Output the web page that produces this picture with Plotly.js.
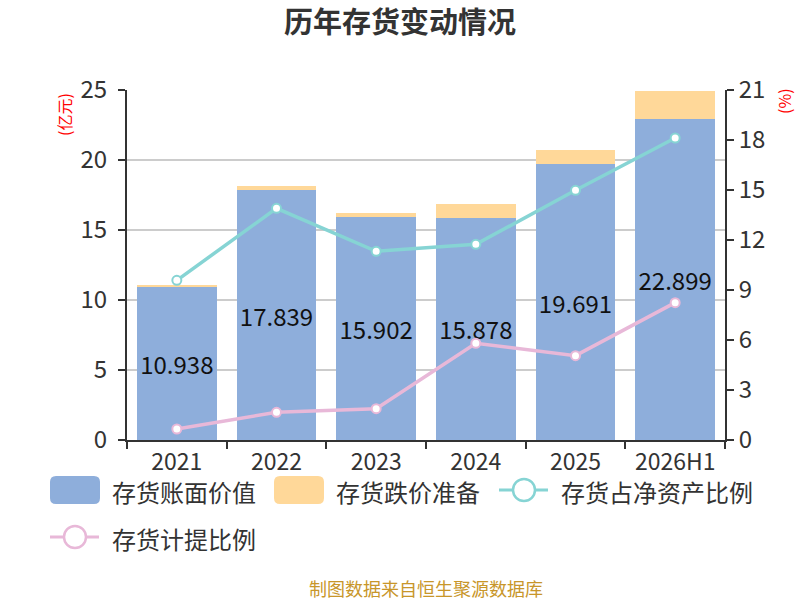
<!DOCTYPE html>
<html>
<head>
<meta charset="utf-8">
<script src="https://cdn.plot.ly/plotly-3.0.1.min.js"></script>
<style>html,body{margin:0;padding:0;background:#fff;}#chart{width:800px;height:600px;}</style>
</head>
<body>
<div id="chart"></div>
<script>
const categories = ['2021', '2022', '2023', '2024', '2025', '2026H1'];
const bookValue = [10.938, 17.839, 15.902, 15.878, 19.691, 22.899];
const impairment = [0.11, 0.30, 0.31, 0.98, 1.05, 2.03];
const shareOfNetAssets = [9.58, 13.9, 11.32, 11.74, 14.98, 18.12];
const provisionRatio = [0.66, 1.66, 1.88, 5.8, 5.06, 8.24];
const seriesNames = ['存货账面价值', '存货跌价准备', '存货占净资产比例', '存货计提比例'];
const seriesColors = ['#8eaedb', '#ffd899', '#86d4d4', '#e8b8d8'];
const leftTicks = [0, 5, 10, 15, 20, 25];
const rightTicks = [0, 3, 6, 9, 12, 15, 18, 21];

const FONT = '"Noto Sans CJK SC", "Noto Sans", sans-serif';

// plot-area geometry (px) used for the hand-made legend
const L = 127, T = 90, W = 598, H = 350;
const px = v => (v - L) / W;
const py = v => (T + H - v) / H;

const traces = [
  {
    type: 'bar', name: seriesNames[0], x: categories, y: bookValue,
    marker: {color: seriesColors[0]},
    text: bookValue.map(v => v.toFixed(3)), textposition: 'inside',
    insidetextanchor: 'middle', textangle: 0,
    textfont: {size: 24, color: '#111', family: FONT},
    hoverinfo: 'none'
  },
  {
    type: 'bar', name: seriesNames[1], x: categories, y: impairment,
    marker: {color: seriesColors[1]}, hoverinfo: 'none'
  },
  {
    type: 'scatter', mode: 'lines+markers', name: seriesNames[2],
    x: categories, y: shareOfNetAssets, yaxis: 'y2',
    line: {color: seriesColors[2], width: 3.5},
    marker: {color: '#ffffff', size: 9, line: {color: seriesColors[2], width: 2}},
    hoverinfo: 'none'
  },
  {
    type: 'scatter', mode: 'lines+markers', name: seriesNames[3],
    x: categories, y: provisionRatio, yaxis: 'y2',
    line: {color: seriesColors[3], width: 3.5},
    marker: {color: '#ffffff', size: 9, line: {color: seriesColors[3], width: 2}},
    hoverinfo: 'none'
  }
];

// legend (boxes for bars, line + hollow circle for lines)
const legendItems = [
  {kind: 'box',  x: 50,  y: 490},
  {kind: 'box',  x: 274, y: 490},
  {kind: 'line', x: 499, y: 490},
  {kind: 'line', x: 50,  y: 537}
];
const shapes = [];
const annotations = [];
legendItems.forEach((it, i) => {
  const c = seriesColors[i];
  if (it.kind === 'box') {
    const x0 = it.x, x1 = it.x + 50, y0 = it.y - 14, y1 = it.y + 14, r = 6;
    const path = `M${px(x0 + r)},${py(y0)} L${px(x1 - r)},${py(y0)} Q${px(x1)},${py(y0)} ${px(x1)},${py(y0 + r)} ` +
      `L${px(x1)},${py(y1 - r)} Q${px(x1)},${py(y1)} ${px(x1 - r)},${py(y1)} L${px(x0 + r)},${py(y1)} ` +
      `Q${px(x0)},${py(y1)} ${px(x0)},${py(y1 - r)} L${px(x0)},${py(y0 + r)} Q${px(x0)},${py(y0)} ${px(x0 + r)},${py(y0)} Z`;
    shapes.push({type: 'path', xref: 'paper', yref: 'paper', path: path, fillcolor: c, line: {width: 0}});
  } else {
    shapes.push({type: 'line', xref: 'paper', yref: 'paper', x0: px(it.x), x1: px(it.x + 49),
      y0: py(it.y), y1: py(it.y), line: {color: c, width: 3}});
    shapes.push({type: 'circle', xref: 'paper', yref: 'paper', x0: px(it.x + 25 - 11), x1: px(it.x + 25 + 11),
      y0: py(it.y - 11), y1: py(it.y + 11), fillcolor: '#ffffff', line: {color: c, width: 2.5}});
  }
  annotations.push({text: seriesNames[i], xref: 'paper', yref: 'paper', x: px(it.x + 60), y: py(it.y + 1),
    xanchor: 'left', yanchor: 'middle', showarrow: false, font: {size: 24, color: '#333', family: FONT}});
});

annotations.push(
  {text: '(亿元)', xref: 'paper', yref: 'paper', x: px(64), y: py(115), xanchor: 'center', yanchor: 'middle',
   textangle: -90, showarrow: false, font: {size: 16, color: '#ff0000', family: FONT}},
  {text: '(%)', xref: 'paper', yref: 'paper', x: px(798), y: py(86), xanchor: 'right', yanchor: 'top',
   textangle: -90, showarrow: false, font: {size: 16, color: '#ff0000', family: FONT}},
  {text: '制图数据来自恒生聚源数据库', xref: 'paper', yref: 'paper', x: 0.5, y: py(588),
   xanchor: 'center', yanchor: 'middle', showarrow: false, font: {size: 18, color: '#c8962a', family: FONT}}
);

const layout = {
  width: 800, height: 600,
  margin: {l: L, r: 800 - L - W, t: T, b: 600 - T - H},
  paper_bgcolor: '#fff', plot_bgcolor: '#fff',
  font: {family: FONT, color: '#333', size: 24},
  barmode: 'stack', bargap: 0.2,
  showlegend: false,
  title: {text: '<b>历年存货变动情况</b>', x: 0.5, xanchor: 'center', y: 1 - 23 / 600, yanchor: 'middle',
          font: {size: 29, color: '#333', family: FONT}},
  xaxis: {
    type: 'category', tickson: 'boundaries', ticks: 'outside', ticklen: 7, tickwidth: 2,
    tickcolor: '#333', showline: true, linecolor: '#333', linewidth: 2,
    tickfont: {size: 23, color: '#333'}, showgrid: false, zeroline: false, ticklabelstandoff: 0
  },
  yaxis: {
    range: [0, 25], tickvals: leftTicks, ticks: 'outside', ticklen: 7, tickwidth: 2,
    tickcolor: '#333', showline: true, linecolor: '#333', linewidth: 2,
    gridcolor: '#cccccc', gridwidth: 1.5, zeroline: false, ticklabelstandoff: 6,
    tickfont: {size: 24, color: '#333'}
  },
  yaxis2: {
    range: [0, 21], tickvals: rightTicks, overlaying: 'y', side: 'right',
    ticks: 'outside', ticklen: 7, tickwidth: 2, tickcolor: '#333',
    showline: true, linecolor: '#333', linewidth: 2, showgrid: false, zeroline: false,
    tickfont: {size: 24, color: '#333'}
  },
  shapes: shapes,
  annotations: annotations
};

Plotly.newPlot('chart', traces, layout, {displayModeBar: false, staticPlot: true});
</script>
</body>
</html>
